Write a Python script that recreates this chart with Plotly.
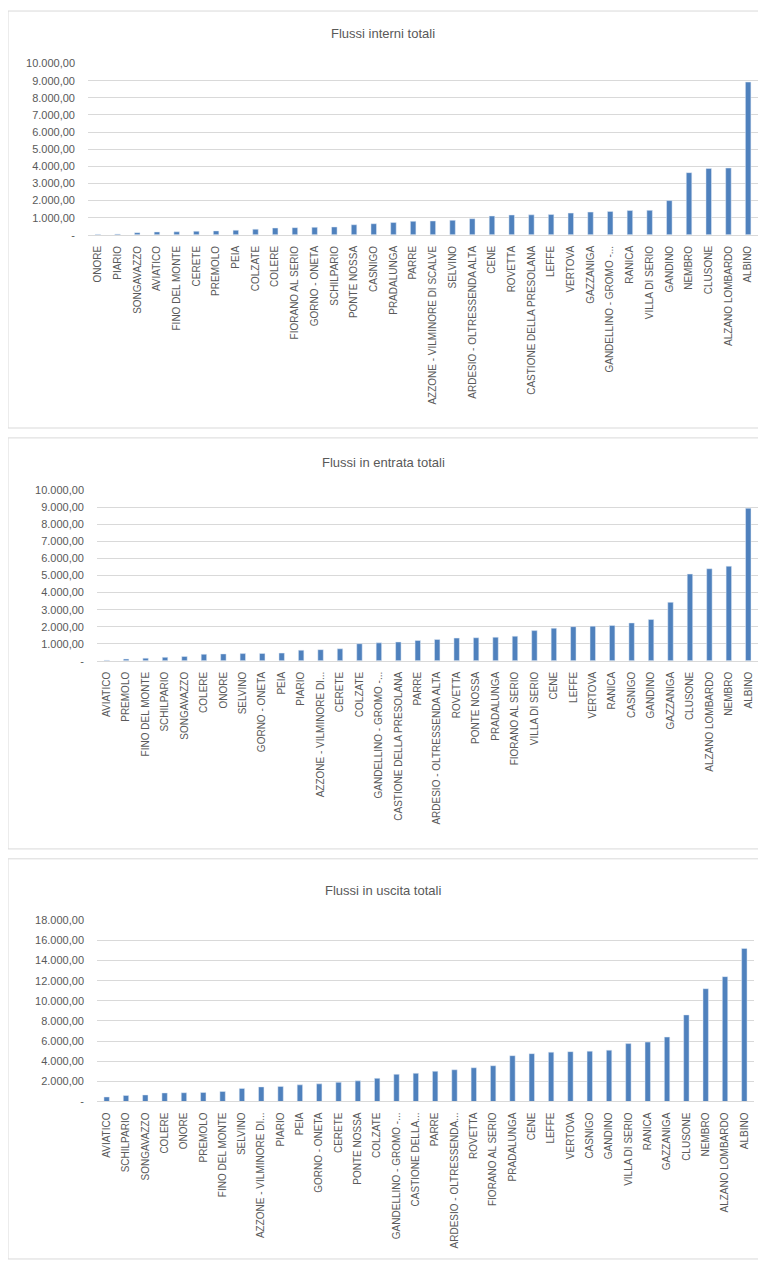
import plotly.graph_objects as go
from plotly.subplots import make_subplots

# dati (ordinati in modo crescente come nell'originale)
comuni_interni = ["ONORE", "PIARIO", "SONGAVAZZO", "AVIATICO", "FINO DEL MONTE", "CERETE", "PREMOLO", "PEIA",
                  "COLZATE", "COLERE", "FIORANO AL SERIO", "GORNO - ONETA", "SCHILPARIO", "PONTE NOSSA", "CASNIGO",
                  "PRADALUNGA", "PARRE", "AZZONE - VILMINORE DI SCALVE", "SELVINO", "ARDESIO - OLTRESSENDA ALTA",
                  "CENE", "ROVETTA", "CASTIONE DELLA PRESOLANA", "LEFFE", "VERTOVA", "GAZZANIGA",
                  "GANDELLINO - GROMO -...", "RANICA", "VILLA DI SERIO", "GANDINO", "NEMBRO", "CLUSONE",
                  "ALZANO LOMBARDO", "ALBINO"]
flussi_interni = [30, 50, 130, 170, 180, 210, 230, 270, 330, 400, 420, 440, 460, 590, 650, 720, 790, 810, 850,
                  940, 1100, 1160, 1170, 1190, 1270, 1330, 1370, 1420, 1430, 2000, 3630, 3880, 3900, 8920]

comuni_entrata = ["AVIATICO", "PREMOLO", "FINO DEL MONTE", "SCHILPARIO", "SONGAVAZZO", "COLERE", "ONORE", "SELVINO",
                  "GORNO - ONETA", "PEIA", "PIARIO", "AZZONE - VILMINORE DI...", "CERETE", "COLZATE",
                  "GANDELLINO - GROMO -...", "CASTIONE DELLA PRESOLANA", "PARRE", "ARDESIO - OLTRESSENDA ALTA",
                  "ROVETTA", "PONTE NOSSA", "PRADALUNGA", "FIORANO AL SERIO", "VILLA DI SERIO", "CENE", "LEFFE",
                  "VERTOVA", "RANICA", "CASNIGO", "GANDINO", "GAZZANIGA", "CLUSONE", "ALZANO LOMBARDO", "NEMBRO",
                  "ALBINO"]
flussi_entrata = [30, 100, 150, 200, 250, 380, 400, 420, 430, 450, 620, 650, 700, 1000, 1050, 1100, 1190, 1250,
                  1330, 1350, 1380, 1440, 1770, 1910, 2000, 2030, 2070, 2220, 2420, 3430, 5090, 5400, 5550, 8950]

comuni_uscita = ["AVIATICO", "SCHILPARIO", "SONGAVAZZO", "COLERE", "ONORE", "PREMOLO", "FINO DEL MONTE", "SELVINO",
                 "AZZONE - VILMINORE DI...", "PIARIO", "PEIA", "GORNO - ONETA", "CERETE", "PONTE NOSSA", "COLZATE",
                 "GANDELLINO - GROMO -...", "CASTIONE DELLA...", "PARRE", "ARDESIO - OLTRESSENDA...", "ROVETTA",
                 "FIORANO AL SERIO", "PRADALUNGA", "CENE", "LEFFE", "VERTOVA", "CASNIGO", "GANDINO",
                 "VILLA DI SERIO", "RANICA", "GAZZANIGA", "CLUSONE", "NEMBRO", "ALZANO LOMBARDO", "ALBINO"]
flussi_uscita = [450, 600, 650, 850, 870, 900, 1000, 1300, 1450, 1500, 1650, 1750, 1900, 2050, 2300, 2700, 2800,
                 3000, 3150, 3350, 3550, 4550, 4750, 4900, 4950, 5000, 5100, 5750, 5900, 6400, 8600, 11200, 12400,
                 15200]

titoli = ["Flussi interni totali", "Flussi in entrata totali", "Flussi in uscita totali"]
max_assi = [10000, 10000, 18000]
passi_assi = [1000, 1000, 2000]

# la pagina html ha un margine di 8px attorno al grafico
OFF = 8
W, H = 766 - 2 * OFF, 1270 - 2 * OFF
blu = "#4F81BD"
grigio = "#595959"
griglia = "#D9D9D9"


def fmt_it(v):
    # formato contabile italiano: 10.000,00 e "-" per lo zero
    if v == 0:
        return "-"
    return f"{v:,.2f}".replace(",", "X").replace(".", ",").replace("X", ".")


def px_x(x):
    return (x - OFF) / W


def px_y(y):
    return 1 - (y - OFF) / H


fig = make_subplots(rows=3, cols=1)

serie = [(comuni_interni, flussi_interni), (comuni_entrata, flussi_entrata), (comuni_uscita, flussi_uscita)]
for i, (comuni, valori) in enumerate(serie):
    fig.add_trace(go.Bar(x=comuni, y=valori, marker_color=blu, showlegend=False), row=i + 1, col=1)

# aree dei grafici (pixel nella pagina) come nei tre grafici Excel impilati
aree = [(88, 758, 58, 231), (97, 758, 489, 661), (97, 754, 923, 1106)]
pannelli = [(8, 761, 5, 426), (8, 761, 436, 851), (8, 761, 861, 1265)]
y_titoli = [28, 461, 893]

for i in range(3):
    x0, x1, y0, y1 = aree[i]
    vals = list(range(0, max_assi[i] + 1, passi_assi[i]))
    fig.update_xaxes(domain=[px_x(x0), px_x(x1)], tickangle=-90, showline=True, linecolor=griglia,
                     showgrid=False, ticks="", tickfont=dict(size=10, color=grigio), ticklabelstandoff=6,
                     row=i + 1, col=1)
    fig.update_yaxes(domain=[px_y(y1), px_y(y0)], range=[0, max_assi[i]], tickvals=vals,
                     ticktext=[fmt_it(v) for v in vals], showgrid=True, gridcolor=griglia, zeroline=False,
                     showline=False, ticks="", tickfont=dict(size=11, color=grigio), ticklabelstandoff=12,
                     row=i + 1, col=1)
    px0, px1, py0, py1 = pannelli[i]
    fig.add_shape(type="rect", xref="paper", yref="paper", x0=px_x(px0), x1=px_x(px1), y0=px_y(py1),
                  y1=px_y(py0), line=dict(color=griglia, width=1), fillcolor="rgba(0,0,0,0)", layer="below")
    fig.add_annotation(text=titoli[i], xref="paper", yref="paper", x=px_x(383), y=px_y(y_titoli[i]),
                       showarrow=False, font=dict(size=13, color=grigio), xanchor="center", yanchor="middle")

fig.update_layout(
    width=W,
    height=H,
    margin=dict(l=0, r=0, t=0, b=0),
    bargap=0.72,
    plot_bgcolor="white",
    paper_bgcolor="white",
    font=dict(family="Liberation Sans, Arial, sans-serif", color=grigio),
)

fig.write_html("out.html")
